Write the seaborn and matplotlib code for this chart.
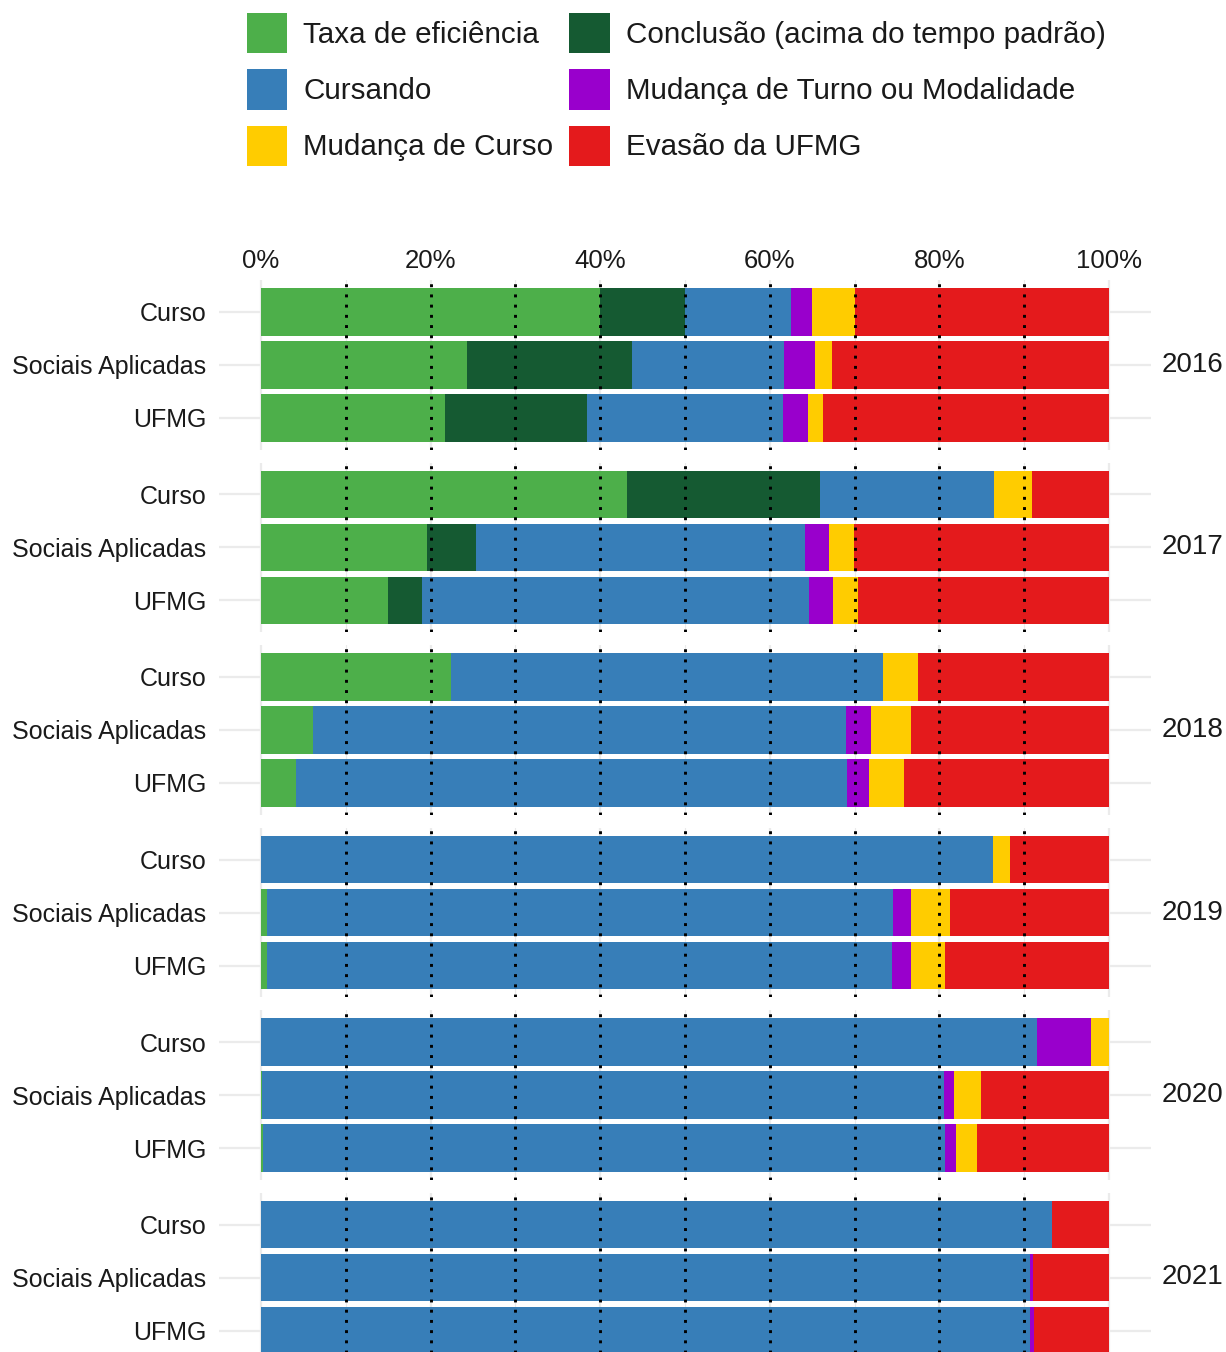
import pandas as pd
import matplotlib.pyplot as plt
import seaborn as sns
from matplotlib.patches import Patch

# Data (percent of each group), year-major, category order inside
categories = ["Curso", "Sociais Aplicadas", "UFMG"]
years = ["2016", "2017", "2018", "2019", "2020", "2021"]

taxa_eficiencia = [40.0, 24.3, 21.7, 43.2, 19.6, 15.0, 22.4, 6.1, 4.1,
                   0.0, 0.7, 0.7, 0.0, 0.1, 0.25, 0.0, 0.0, 0.0]
conclusao = [10.0, 19.45, 16.7, 22.7, 5.8, 4.0, 0.0, 0.0, 0.0,
             0.0, 0.0, 0.0, 0.0, 0.0, 0.0, 0.0, 0.0, 0.0]
cursando = [12.5, 17.95, 23.2, 20.5, 38.8, 45.6, 51.0, 62.9, 65.0,
            86.3, 73.8, 73.7, 91.5, 80.4, 80.45, 93.3, 90.7, 90.7]
mudanca_turno = [2.5, 3.6, 2.9, 0.0, 2.8, 2.9, 0.0, 2.9, 2.6,
                 0.0, 2.2, 2.3, 6.4, 1.2, 1.3, 0.0, 0.3, 0.5]
mudanca_curso = [5.0, 2.0, 1.8, 4.5, 2.9, 2.9, 4.1, 4.8, 4.1,
                 2.0, 4.6, 4.0, 2.1, 3.2, 2.4, 0.0, 0.0, 0.0]
evasao = [30.0, 32.7, 33.7, 9.1, 30.1, 29.6, 22.5, 23.3, 24.2,
          11.7, 18.7, 19.3, 0.0, 15.1, 15.6, 6.7, 9.0, 8.8]

# stacking order (left to right) with colours
series_names = ["Taxa de eficiência", "Conclusão (acima do tempo padrão)", "Cursando",
                "Mudança de Turno ou Modalidade", "Mudança de Curso", "Evasão da UFMG"]
series_values = [taxa_eficiencia, conclusao, cursando, mudanca_turno, mudanca_curso, evasao]
series_colors = ["#4DAF4A", "#155A32", "#377EB8", "#9900CC", "#FFCC00", "#E41A1C"]

TEXT = "#1a1a1a"


def build_frame():
    rows = []
    for i, year in enumerate(years):
        for j, cat in enumerate(categories):
            k = i * len(categories) + j
            row = {"ano": year, "grupo": cat}
            for name, vals in zip(series_names, series_values):
                row[name] = vals[k]
            rows.append(row)
    df = pd.DataFrame(rows)
    # cumulative ends, so layers drawn from the longest down look stacked
    cum = df[series_names].cumsum(axis=1)
    for name in series_names:
        df["fim " + name] = cum[name]
    return df


def main():
    plt.rcParams["font.family"] = ["Liberation Sans", "DejaVu Sans"]
    df = build_frame()

    W, H = 1226, 1352
    fig = plt.figure(figsize=(W / 100, H / 100), dpi=100)

    left_px, right_px = 218.6, 1151.4
    step = 53.0
    panel_h = 3.2 * step
    first_top = 280.2
    facet_step = 182.5

    for i, year in enumerate(years):
        top = first_top + i * facet_step
        ax = fig.add_axes([left_px / W, 1 - (top + panel_h) / H,
                           (right_px - left_px) / W, panel_h / H])
        sub = df[df["ano"] == year]

        # grid under the bars
        for c in range(len(categories)):
            ax.axhline(c, color="#EBEBEB", lw=1.6, zorder=0)
        for v in range(0, 101, 20):
            ax.axvline(v, color="#EBEBEB", lw=1.6, zorder=0)
        for v in range(10, 100, 20):
            ax.axvline(v, color="#EBEBEB", lw=0.8, zorder=0)

        for name, col in reversed(list(zip(series_names, series_colors))):
            sns.barplot(data=sub, x="fim " + name, y="grupo", order=categories,
                        orient="y", color=col, saturation=1, width=0.9,
                        linewidth=0, errorbar=None, ax=ax, zorder=2)

        for v in range(10, 100, 10):
            ax.axvline(v, color="black", lw=2.1, linestyle=(0, (1, 2.5)), zorder=3)

        ax.set_xlim(-5, 105)
        ax.set_ylim(2.6, -0.6)
        ax.set_xlabel("")
        ax.set_ylabel("")
        for s in ax.spines.values():
            s.set_visible(False)
        ax.set_xticks(range(0, 101, 20))
        ax.set_xticklabels([f"{v}%" for v in range(0, 101, 20)])
        ax.tick_params(axis="both", length=0, labelsize=18, colors=TEXT)
        ax.tick_params(axis="y", pad=9)
        if i == 0:
            ax.tick_params(axis="x", labeltop=True, labelbottom=False, pad=5,
                           labelsize=18.5)
        else:
            ax.tick_params(axis="x", labeltop=False, labelbottom=False)

        ax.text(1.0114, 0.5, year, transform=ax.transAxes, ha="left", va="center",
                fontsize=20, color=TEXT)

    # legend, filled column by column like the reference
    handles = [Patch(facecolor=c, edgecolor="none") for c in series_colors]
    order = [0, 2, 4, 1, 3, 5]
    fig.legend([handles[k] for k in order], [series_names[k] for k in order],
               ncol=2, loc="upper left", bbox_to_anchor=(247 / W, 1 - 13 / H),
               frameon=False, fontsize=21.3, handlelength=1.36, handleheight=1.72,
               handletextpad=0.54, labelspacing=0.54, columnspacing=0.54,
               borderpad=0, borderaxespad=0, labelcolor=TEXT)

    fig.savefig("out.png", dpi=100)


if __name__ == "__main__":
    main()
